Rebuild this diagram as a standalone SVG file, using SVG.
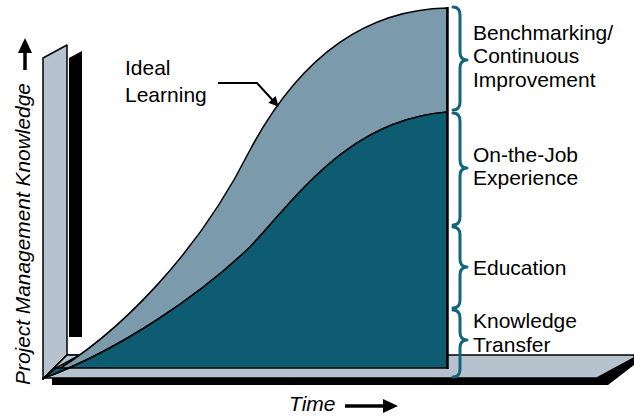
<svg xmlns="http://www.w3.org/2000/svg" width="634" height="416" viewBox="0 0 634 416">
<style>
.t{font-family:"Liberation Sans",Arial,sans-serif;font-size:21px;fill:#000}
.i{font-style:italic}
.br{fill:none;stroke:#13657e;stroke-width:3;stroke-linecap:round;stroke-linejoin:round}
.ol{stroke:#000;stroke-width:1.5;stroke-linejoin:round}
</style>
<defs>
<marker id="ah" markerWidth="10" markerHeight="10" refX="9" refY="5" orient="auto" markerUnits="userSpaceOnUse">
<path d="M0,0 L10,5 L0,10 Z" fill="#000"/>
</marker>
</defs>
<rect width="634" height="416" fill="#fff"/>
<g id="wall">
<polygon points="69,58 82,51 82,337 69,337" fill="#000"/>
<polygon points="43,58 67,45 67,355 43,379" fill="#b6c2cd" class="ol"/>
</g>
<g id="floor">
<polygon points="52,378 597,378 634,358 634,365 608,385 52,385" fill="#000"/>
<polygon points="43,379 67,355 634,355 634,358 597,378 43,378" fill="#b6c2cd" class="ol"/>
<polygon points="43,379 67,355 80,355 56,368" fill="#b6c2cd" class="ol"/>
</g>
<g id="ideal-band">
<path d="M44,378 C120,335 200,250 250,150 C290,75 350,10 447,8 L447,112 C350,120 300,193 250,247 C200,295 120,350 44,378 Z" fill="#7b9aab" class="ol"/>
</g>
<g id="teal-area">
<path d="M44,378 C120,350 200,295 250,247 C300,193 350,120 447,112 L447,368 L56,368 Z" fill="#0e5c72" class="ol"/>
<line x1="447.5" y1="7" x2="447.5" y2="369" stroke="#000" stroke-width="2.5"/>
</g>
<g id="braces">
<path class="br" d="M453,7 Q460,7 460,15 L460,52 Q460,60 467,60 Q460,60 460,68 L460,102 Q460,110 453,110"/>
<path class="br" d="M453,113 Q460,113 460,121 L460,160 Q460,168 467,168 Q460,168 460,176 L460,217 Q460,225 453,225"/>
<path class="br" d="M453,227 Q460,227 460,235 L460,259 Q460,267 467,267 Q460,267 460,275 L460,300 Q460,308 453,308"/>
<path class="br" d="M453,310 Q460,310 460,318 L460,332 Q460,340 467,340 Q460,340 460,348 L460,369 Q460,377 453,377"/>
</g>
<g id="labels">
<text class="t" x="473" y="40">Benchmarking/</text>
<text class="t" x="473" y="63">Continuous</text>
<text class="t" x="473" y="87">Improvement</text>
<text class="t" x="473" y="162">On-the-Job</text>
<text class="t" x="473" y="185">Experience</text>
<text class="t" x="473" y="275">Education</text>
<text class="t" x="473" y="328">Knowledge</text>
<text class="t" x="473" y="352">Transfer</text>
<text class="t" x="125" y="75">Ideal</text>
<text class="t" x="125" y="102">Learning</text>
</g>
<g id="connectors">
<polyline points="218,83 257,83 278,106" fill="none" stroke="#000" stroke-width="2" marker-end="url(#ah)"/>
<line x1="345" y1="406" x2="386" y2="406" stroke="#000" stroke-width="3.5"/>
<line x1="25" y1="70" x2="25" y2="50" stroke="#000" stroke-width="3.5"/>
<polygon points="383,399 398,406 383,413" fill="#000"/>
<polygon points="18,53 25,38 32,53" fill="#000"/>
</g>
<g id="axes">
<text class="t i" x="289" y="411">Time</text>
<text class="t i" transform="translate(30,385) rotate(-90)" style="font-size:20.9px">Project Management Knowledge</text>
</g>
</svg>
